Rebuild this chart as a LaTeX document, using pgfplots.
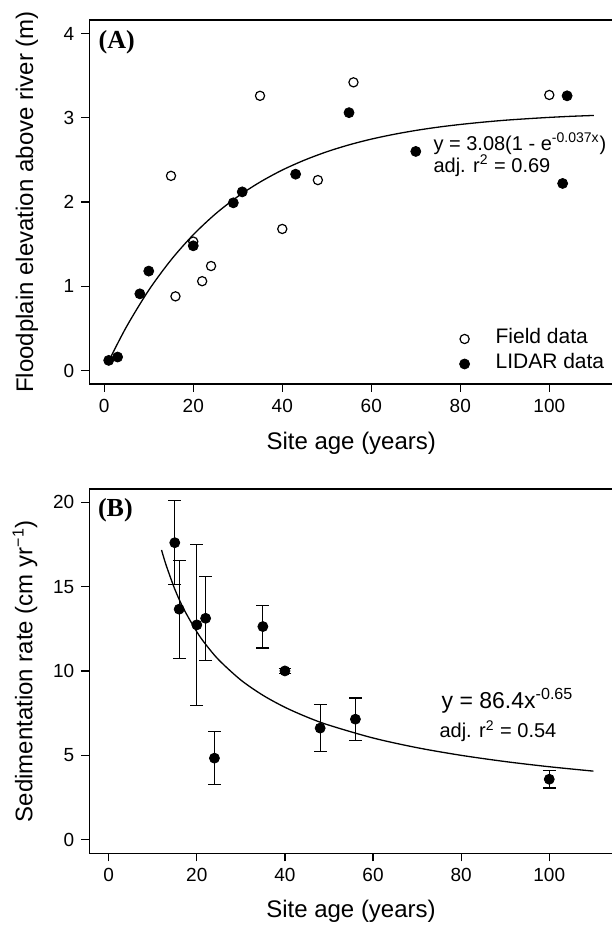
\documentclass[border=0pt]{standalone}
\usepackage{fontspec}
\setmainfont{Liberation Sans}
\newfontfamily\timesfont{Liberation Serif}
\usepackage{pgfplots}
\usepackage{pgfplotstable}
\pgfplotsset{compat=1.18}

% panel A data
\pgfplotstableread{
x y
15 2.31
16 0.88
20 1.53
22 1.06
24 1.24
35 3.26
40 1.68
48 2.26
56 3.42
100 3.27
}\fielddata

\pgfplotstableread{
x y
1 0.12
3 0.16
8 0.91
10 1.18
20 1.48
29 1.99
31 2.12
43 2.33
55 3.06
70 2.60
103 2.22
104 3.26
}\lidardata

% fitted curve y = 3.08(1 - e^{-0.037x})
\pgfplotstableread{
x y
1 0.112
5 0.520
10 0.953
15 1.312
20 1.611
25 1.859
30 2.065
35 2.236
40 2.379
45 2.497
50 2.596
55 2.678
60 2.746
65 2.802
70 2.849
75 2.888
80 2.920
85 2.947
90 2.970
95 2.988
100 3.004
105 3.017
110 3.027
}\fitA

% panel B data
\pgfplotstableread{
x y e
15 17.61 2.50
16 13.67 2.90
20 12.74 4.76
22 13.13 2.48
24 4.84 1.57
35 12.64 1.27
40 10.01 0.15
48 6.62 1.40
56 7.15 1.25
100 3.59 0.52
}\seddata

% fitted curve y = 86.4 x^{-0.65}
\pgfplotstableread{
x y
12 17.18
13 16.31
15 14.86
17 13.70
20 12.33
22 11.59
25 10.66
30 9.470
35 8.568
40 7.856
45 7.277
50 6.795
60 6.035
70 5.460
80 5.007
90 4.638
100 4.331
110 4.071
}\fitB

\pgfplotsset{
  rplot/.style={
    scale only axis,
    axis line style={line width=0.7pt},
    tick style={line width=0.6pt, black},
    tick align=outside,
    major tick length=4pt,
    xtick pos=bottom, ytick pos=left,
    xtick={0,20,...,100},
    ticklabel style={font=\fontsize{9.5}{11}\selectfont},
    /pgf/number format/assume math mode=true,
    label style={font=\fontsize{12}{14}\selectfont},
    xlabel={Site age (years)},
  },
  filled/.style={only marks, mark=*, mark size=2.5pt, black, mark options={fill=black}},
  hollow/.style={only marks, mark=o, mark size=2.3pt, black, mark options={line width=0.6pt}},
}

\begin{document}
\begin{tikzpicture}
\useasboundingbox (0,0) rectangle (305.5pt,462.5pt);

% (A)
\begin{axis}[rplot,
  at={(44.65pt,270.5pt)}, anchor=south west,
  width=261.95pt, height=182pt,
  xmin=-3.36, xmax=114.36, ymin=-0.16, ymax=4.16,
  ytick={0,1,2,3,4},
  ylabel={Floodplain elevation above river (m)},
  xlabel style={at={(axis description cs:0.5,-0.1629)}, anchor=center},
  ylabel style={at={(axis description cs:-0.1189,0.5)}, anchor=center},
  legend style={at={(axis description cs:0.703,0.1566)}, anchor=north west,
    draw=none, fill=none, inner sep=0pt, outer sep=0pt, row sep=0.5pt,
    font=\fontsize{10.5}{12}\selectfont,
    nodes={inner sep=1pt, text height=7.5pt, text depth=2.5pt}},
  legend cell align=left,
  legend image code/.code={\path[draw=none] (0pt,0pt) -- (18pt,0pt); \draw[#1, only marks] plot coordinates {(3.5pt,0pt)};},
]
\addplot[black, line width=0.65pt, smooth, forget plot] table {\fitA};
\addplot[hollow] table {\fielddata};
\addplot[filled] table {\lidardata};
\legend{Field data, LIDAR data}
\node[anchor=base west, inner sep=0pt, font=\timesfont\bfseries\fontsize{13}{15}\selectfont] at (axis cs:-1.35,3.823) {(A)};
\node[anchor=base west, inner sep=0pt, font=\fontsize{10}{12}\selectfont] at (axis cs:73.9,2.615) {y = 3.08(1 - e\textsuperscript{-0.037x})};
\node[anchor=base west, inner sep=0pt, font=\fontsize{10}{12}\selectfont] at (axis cs:73.9,2.355) {adj. r\textsuperscript{2} = 0.69};
\end{axis}

% (B)
\begin{axis}[rplot,
  at={(44.65pt,35.85pt)}, anchor=south west,
  width=261.7pt, height=182.2pt,
  xmin=-4.4, xmax=114.4, ymin=-0.8, ymax=20.8,
  ytick={0,5,...,20},
  ylabel={Sedimentation rate (cm yr\textsuperscript{−1})},
  xlabel style={at={(axis description cs:0.5,-0.1603)}, anchor=center},
  ylabel style={at={(axis description cs:-0.1229,0.5)}, anchor=center},
]
\addplot[black, line width=0.65pt, smooth] table {\fitB};
\addplot[filled,
  error bars/.cd, y dir=both, y explicit,
  error bar style={line width=0.6pt, black},
  error mark options={rotate=90, mark size=3.2pt, line width=0.6pt, black},
] table[x=x, y=y, y error=e] {\seddata};
\node[anchor=base west, inner sep=0pt, font=\timesfont\bfseries\fontsize{13}{15}\selectfont] at (axis cs:-2.5,19.19) {(B)};
\node[anchor=base west, inner sep=0pt, font=\fontsize{11.5}{13}\selectfont] at (axis cs:75.5,7.80) {y = 86.4x\textsuperscript{-0.65}};
\node[anchor=base west, inner sep=0pt, font=\fontsize{10}{12}\selectfont] at (axis cs:75.0,6.06) {adj. r\textsuperscript{2} = 0.54};
\end{axis}
\end{tikzpicture}
\end{document}
